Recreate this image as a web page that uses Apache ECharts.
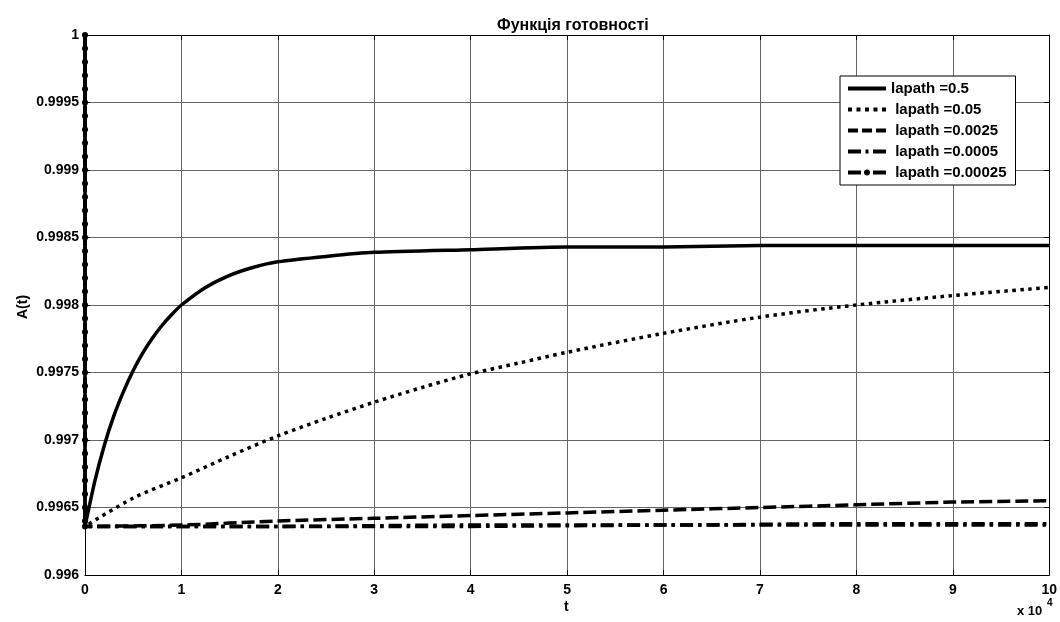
<!DOCTYPE html>
<html>
<head>
<meta charset="utf-8">
<script src="https://cdn.jsdelivr.net/npm/echarts@6/dist/echarts.min.js"></script>
<style>
html,body{margin:0;padding:0;background:#fff;}
#c{width:1060px;height:622px;}
</style>
</head>
<body>
<div id="c"></div>
<script>
// ---- data (t in units of 10^4) ----
var seriesNames = ['lapath =0.5', ' lapath =0.05', ' lapath =0.0025', ' lapath =0.0005', ' lapath =0.00025'];

var t1 = [0, 0, 0.1, 0.2, 0.3, 0.4, 0.5, 0.6, 0.7, 0.8, 0.9, 1.0, 1.25, 1.5, 1.75, 2, 2.5, 3, 4, 5, 6, 7, 8, 9, 10];
var a1 = [1, 0.99636, 0.99669, 0.99696, 0.99718, 0.99736, 0.997515, 0.997645, 0.997755, 0.99785, 0.99793, 0.99800, 0.99813, 0.99822, 0.99828, 0.99832, 0.99836, 0.99839, 0.99841, 0.99843, 0.99843, 0.99844, 0.99844, 0.99844, 0.99844];

var t2 = [0, 0, 0.5, 1, 1.5, 2, 2.5, 3, 3.5, 4, 4.5, 5, 6, 7, 8, 9, 10];
var a2 = [1, 0.99636, 0.99657, 0.99672, 0.99688, 0.99703, 0.99716, 0.99728, 0.99739, 0.99749, 0.99757, 0.99765, 0.99779, 0.99791, 0.99800, 0.99807, 0.99813];

var t3 = [0, 0, 1, 2, 3, 4, 5, 6, 7, 8, 9, 10];
var a3 = [1, 0.99636, 0.99637, 0.99640, 0.99642, 0.99644, 0.99646, 0.99648, 0.99650, 0.99652, 0.99654, 0.99655];

var t4 = [0, 0, 2, 4, 6, 8, 10];
var a4 = [1, 0.99636, 0.99636, 0.99637, 0.99637, 0.99638, 0.99638];

// last series: vertical drop at t = 0 (marker dots), then the flat curve
var dropA = [1, 0.9999, 0.9998, 0.9997, 0.9996, 0.9995, 0.9994, 0.9993, 0.9992, 0.9991, 0.999, 0.9989, 0.9988, 0.9987, 0.9986, 0.9985, 0.9984, 0.9983, 0.9982, 0.9981, 0.998, 0.9979, 0.9978, 0.9977, 0.9976, 0.9975, 0.9974, 0.9973, 0.9972, 0.9971, 0.997, 0.9969, 0.9968, 0.9967, 0.9966, 0.9965, 0.9964, 0.99636];
var t5 = [2, 4, 6, 8, 10];
var a5 = [0.99636, 0.99636, 0.99637, 0.99637, 0.99637];

var xTicks = ['0','1','2','3','4','5','6','7','8','9','10'];
var yTicks = ['0.996','0.9965','0.997','0.9975','0.998','0.9985','0.999','0.9995','1'];

function pairs(t, a) { return t.map(function (v, i) { return [v, a[i]]; }); }
var d5 = dropA.map(function (v) { return [0, v]; }).concat(pairs(t5, a5));
var nDrop = dropA.length;

var FONT = 'Liberation Sans, Arial, sans-serif';
var chart = echarts.init(document.getElementById('c'), null, {renderer: 'canvas'});

function baseLine(type, w) {
  return {color: '#000', width: w, type: type, cap: 'butt', join: 'round'};
}

// legend icons (38 x 14 box, anchored by two tiny corner specks)
var A0 = 'M0,0h0.01v0.01h-0.01z M37.99,13.99h0.01v0.01h-0.01z ';
var icons = [
  'path://' + A0 + 'M0,5h38v4h-38z',
  'path://' + A0 + 'M0,5h4v4h-4z M8.5,5h4v4h-4z M17,5h4v4h-4z M25.5,5h4v4h-4z M34,5h4v4h-4z',
  'path://' + A0 + 'M0,5h10v4h-10z M14,5h10v4h-10z M28,5h10v4h-10z',
  'path://' + A0 + 'M0,5h13v4h-13z M17.5,5h3v4h-3z M25,5h13v4h-13z',
  'path://' + A0 + 'M0,5h13v4h-13z M16,7a3,3 0 1,0 6,0a3,3 0 1,0 -6,0z M25,5h13v4h-13z'
];

var option = {
  backgroundColor: '#fff',
  animation: false,
  title: {
    text: 'Функція готовності', left: 492, top: 13,
    textStyle: {fontFamily: FONT, fontWeight: 'bold', fontSize: 16, color: '#000'}
  },
  grid: {left: 85, right: 9, top: 35, bottom: 47, show: false},
  legend: {
    orient: 'vertical', left: 840, top: 76,
    padding: [5, 9, 5, 8], itemGap: 6, itemWidth: 38, itemHeight: 14,
    backgroundColor: '#fff', borderColor: '#000', borderWidth: 1, borderRadius: 0,
    textStyle: {fontFamily: FONT, fontWeight: 'bold', fontSize: 15, color: '#000'},
    data: seriesNames.map(function (n, i) { return {name: n, icon: icons[i]}; })
  },
  xAxis: [{
    type: 'value', min: 0, max: 10, interval: 1, position: 'bottom',
    axisLine: {show: true, lineStyle: {color: '#000', width: 1}},
    axisTick: {show: true, inside: true, length: 5, lineStyle: {color: '#000'}},
    axisLabel: {margin: 8, fontFamily: FONT, fontWeight: 'bold', fontSize: 14, color: '#000',
      formatter: function (v) { return xTicks[Math.round(v)]; }},
    splitLine: {show: true, lineStyle: {color: '#666', width: 1}}
  }, {
    type: 'value', min: 0, max: 10, interval: 1, position: 'top',
    axisLine: {show: true, onZero: false, lineStyle: {color: '#000', width: 1}},
    axisTick: {show: true, inside: true, length: 5, lineStyle: {color: '#000'}},
    axisLabel: {show: false}, splitLine: {show: false}
  }],
  yAxis: [{
    type: 'value', min: 0.996, max: 1, interval: 0.0005, position: 'left',
    axisLine: {show: true, onZero: false, lineStyle: {color: '#000', width: 1}},
    axisTick: {show: true, inside: true, length: 5, lineStyle: {color: '#000'}},
    axisLabel: {margin: 6, fontFamily: FONT, fontWeight: 'bold', fontSize: 14, color: '#000',
      formatter: function (v) { return yTicks[Math.round((v - 0.996) / 0.0005)]; }},
    splitLine: {show: true, lineStyle: {color: '#666', width: 1}}
  }, {
    type: 'value', min: 0.996, max: 1, interval: 0.0005, position: 'right',
    axisLine: {show: true, onZero: false, lineStyle: {color: '#000', width: 1}},
    axisTick: {show: true, inside: true, length: 5, lineStyle: {color: '#000'}},
    axisLabel: {show: false}, splitLine: {show: false}
  }],
  graphic: [
    {type: 'text', left: 564, top: 600, style: {text: 't', font: 'bold 14px ' + FONT, fill: '#000'}},
    {type: 'text', rotation: Math.PI / 2, x: 16, y: 319,
      style: {text: 'A(t)', font: 'bold 14px ' + FONT, fill: '#000'}},
    {type: 'text', left: 1017, top: 605, style: {text: 'x 10', font: 'bold 13px ' + FONT, fill: '#000'}},
    {type: 'text', left: 1047, top: 598, style: {text: '4', font: 'bold 10px ' + FONT, fill: '#000'}}
  ],
  series: [
    {name: seriesNames[0], type: 'line', data: pairs(t1, a1), symbol: 'none', smooth: 0.2, clip: false,
      lineStyle: baseLine('solid', 3.5), itemStyle: {color: '#000'}, z: 5},
    {name: seriesNames[1], type: 'line', data: pairs(t2, a2), symbol: 'none', smooth: 0.3, clip: false,
      lineStyle: baseLine([3.5, 4.5], 3.5), itemStyle: {color: '#000'}, z: 4},
    {name: seriesNames[2], type: 'line', data: pairs(t3, a3), symbol: 'none', smooth: 0.3, clip: false,
      lineStyle: baseLine([13, 5], 3.5), itemStyle: {color: '#000'}, z: 3},
    {name: seriesNames[3], type: 'line', data: pairs(t4, a4), symbol: 'none', smooth: 0.3, clip: false,
      lineStyle: baseLine([13, 5, 3.5, 5], 3.5), itemStyle: {color: '#000'}, z: 2},
    {name: seriesNames[4], type: 'line', data: d5, symbol: 'circle', showSymbol: true, showAllSymbol: true,
      symbolSize: function (v, p) { return (p && p.dataIndex < nDrop) ? 6 : 0; },
      clip: false,
      lineStyle: baseLine([13, 5, 3.5, 5], 3.5), itemStyle: {color: '#000', borderWidth: 0}, z: 1}
  ]
};
chart.setOption(option);
</script>
</body>
</html>
